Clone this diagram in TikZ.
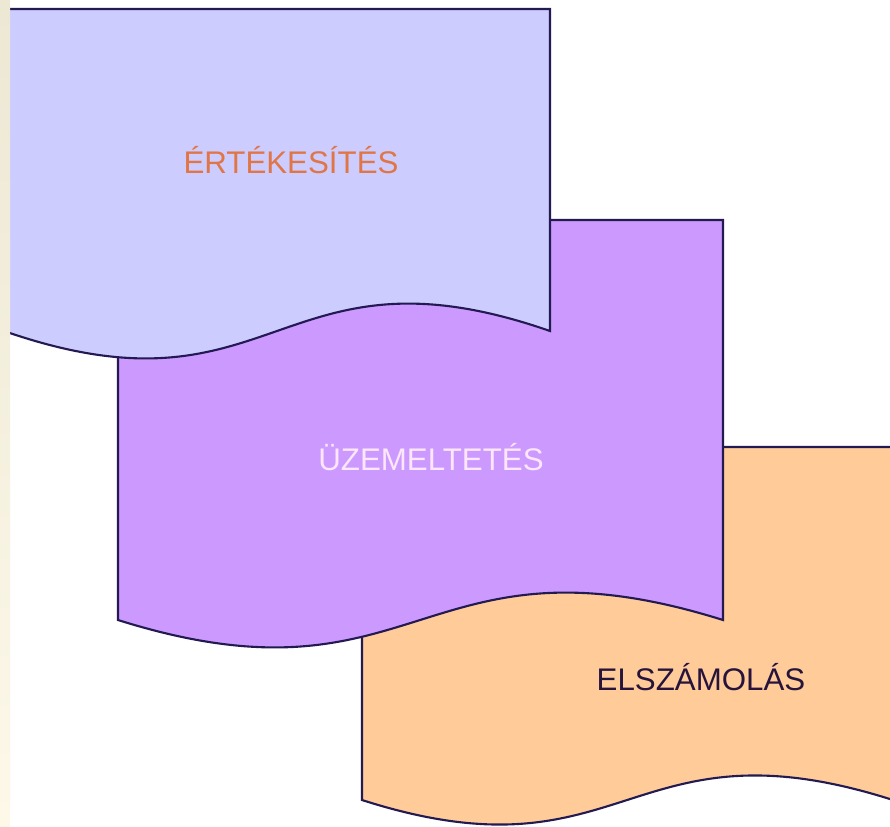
\documentclass[tikz,border=0pt]{standalone}
\usepackage{fontspec}
\setmainfont{Liberation Sans}
\definecolor{edge}{RGB}{34,26,80}
\definecolor{lavender}{RGB}{204,204,255}
\definecolor{lilac}{RGB}{204,153,255}
\definecolor{peach}{RGB}{255,204,153}
\definecolor{salestext}{RGB}{224,118,70}
\definecolor{opstext}{RGB}{251,230,250}
\definecolor{billtext}{RGB}{38,20,60}
\begin{document}
\begin{tikzpicture}
  [x=0.02cm,y=-0.02cm,
   sheet/.style={draw=edge,line width=1.2pt,line join=miter},
   every node/.style={font=\fontsize{17.8}{20}\selectfont,anchor=base,inner sep=0pt}]
  \useasboundingbox (0,0) rectangle (890,826);
  \clip (0,0) rectangle (890,826);
  \fill[white] (0,0) rectangle (890,826);
  % third sheet, partly off the page
  \filldraw[sheet,fill=peach] (362,447) -- (893,447) -- (893,800)
    .. controls (627,715) and (627,885) .. (362,800) -- cycle;
  % second sheet
  \filldraw[sheet,fill=lilac] (118,220) -- (723,220) -- (723,620)
    .. controls (420,525) and (420,715) .. (118,620) -- cycle;
  % first sheet
  \filldraw[sheet,fill=lavender] (4,9) -- (550,9) -- (550,331)
    .. controls (277,236) and (277,426) .. (4,331) -- cycle;
  % page margin strip
  \shade[top color={rgb,255:red,236;green,232;blue,212},bottom color={rgb,255:red,253;green,248;blue,232}]
    (0,0) rectangle (10,826);
  \node[text=salestext] (sales) at (291,173) {ÉRTÉKESÍTÉS};
  \node[text=opstext] (ops) at (431,470) {ÜZEMELTETÉS};
  \node[text=billtext] (bill) at (701,690) {ELSZÁMOLÁS};
\end{tikzpicture}
\end{document}
